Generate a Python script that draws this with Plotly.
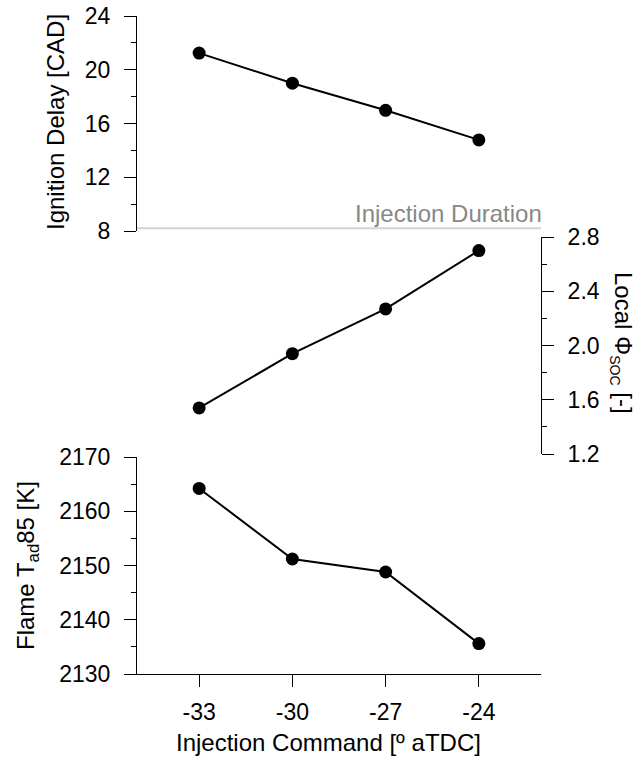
import plotly.graph_objects as go

injection_cmd = [-33, -30, -27, -24]
ignition_delay = [21.24, 19.0, 16.98, 14.78]
local_phi_soc = [1.54, 1.94, 2.27, 2.70]
flame_tad85 = [2164.2, 2151.2, 2148.8, 2135.6]
injection_duration_level = 8.2

FONT = "Arial, Liberation Sans, sans-serif"
W, H = 639, 757
# plot-area edges in page pixels
X0, X1, Y0, Y1 = 137, 541, 16, 674
L, R, T, B = X0, W - X1, Y0, H - Y1

def px_x(p):
    return (p - X0) / (X1 - X0)

def px_y(p):
    return (Y1 - p) / (Y1 - Y0)

fig = go.Figure()
line_style = dict(color="black", width=2)
marker_style = dict(color="black", size=13, symbol="circle")

fig.add_trace(go.Scatter(x=injection_cmd, y=ignition_delay, xaxis="x", yaxis="y",
                         mode="lines+markers", line=line_style, marker=marker_style))
fig.add_trace(go.Scatter(x=injection_cmd, y=local_phi_soc, xaxis="x", yaxis="y2",
                         mode="lines+markers", line=line_style, marker=marker_style))
fig.add_trace(go.Scatter(x=injection_cmd, y=flame_tad85, xaxis="x", yaxis="y3",
                         mode="lines+markers", line=line_style, marker=marker_style))

tickfont = dict(family=FONT, size=23, color="black")
common_y = dict(showline=True, linecolor="black", linewidth=1, ticks="outside",
                ticklen=12, tickcolor="black", tickwidth=1, showgrid=False,
                zeroline=False, tickfont=tickfont, anchor="x", ticklabelstandoff=9,
                automargin=False, ticklabeloverflow="allow")
minor_base = dict(ticks="outside", ticklen=5, tickcolor="black", tickwidth=1, showgrid=False)

fig.update_layout(
    width=W, height=H,
    margin=dict(l=L, r=R, t=T, b=B, autoexpand=False),
    paper_bgcolor="white", plot_bgcolor="white",
    showlegend=False,
    font=dict(family=FONT, size=23, color="black"),
    xaxis=dict(domain=[0, 1], range=[-35, -22], tickvals=injection_cmd,
               ticktext=[str(v) for v in injection_cmd],
               showline=True, linecolor="black", linewidth=1, ticks="outside",
               ticklen=12, tickcolor="black", showgrid=False, zeroline=False,
               tickfont=tickfont, anchor="y3", ticklabelstandoff=5, automargin=False),
    yaxis=dict(domain=[px_y(231), 1], range=[8, 24], tickvals=[8, 12, 16, 20, 24],
               side="left", minor=dict(minor_base, dtick=2, tick0=8), **common_y),
    yaxis2=dict(domain=[px_y(454), px_y(237)], range=[1.2, 2.8],
                tickvals=[1.2, 1.6, 2.0, 2.4, 2.8], tickformat=".1f",
                side="right", minor=dict(minor_base, dtick=0.2, tick0=1.2), **common_y),
    yaxis3=dict(domain=[0, px_y(457)], range=[2130, 2170],
                tickvals=[2130, 2140, 2150, 2160, 2170],
                side="left", minor=dict(minor_base, dtick=5, tick0=2130), **common_y),
)

fig.add_shape(type="line", xref="paper", yref="y", x0=0, x1=1,
              y0=injection_duration_level, y1=injection_duration_level,
              line=dict(color="#d3d3d3", width=2))

ann_font = dict(family=FONT, size=24, color="black")
fig.add_annotation(text="Injection Duration", xref="paper", yref="paper", x=1,
                   y=px_y(213), xanchor="right", yanchor="middle", xshift=3,
                   showarrow=False, font=dict(family=FONT, size=24, color="#888888"))
fig.add_annotation(text="Ignition Delay [CAD]", xref="paper", yref="paper",
                   x=px_x(55), y=px_y(122), textangle=-90, showarrow=False,
                   xanchor="center", yanchor="middle", font=ann_font)
fig.add_annotation(text="Flame T<sub>ad</sub>85 [K]", xref="paper", yref="paper",
                   x=px_x(27), y=px_y(565), textangle=-90, showarrow=False,
                   xanchor="center", yanchor="middle", font=ann_font)
fig.add_annotation(text="Local Φ<sub><span style='font-size:14px'>SOC</span></sub> [-]",
                   xref="paper", yref="paper",
                   x=px_x(622), y=px_y(343), textangle=90, showarrow=False,
                   xanchor="center", yanchor="middle",
                   font=dict(family=FONT, size=24, color="black"))
fig.add_annotation(text="Injection Command [º aTDC]", xref="paper", yref="paper",
                   x=px_x(328), y=px_y(742), showarrow=False,
                   xanchor="center", yanchor="middle", font=ann_font)

fig.write_html("out.html", config={"displayModeBar": False},
               post_script="document.body.style.margin='0';")
